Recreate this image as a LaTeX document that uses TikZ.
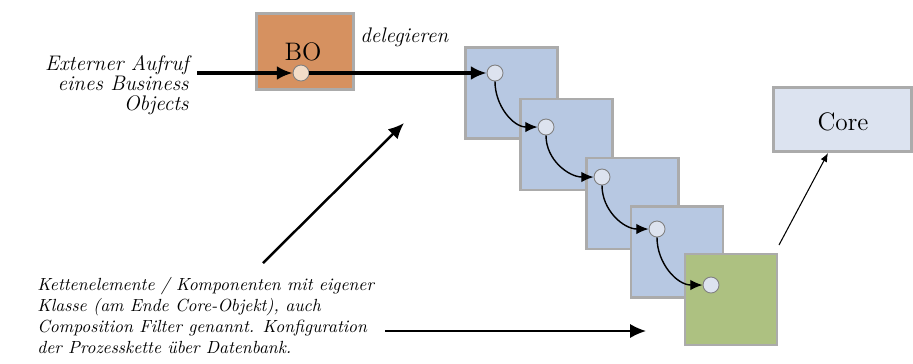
\documentclass[tikz,border=0pt]{standalone}
\usepackage{xcolor}
\usepackage{tikz}
\usetikzlibrary{arrows.meta}

\definecolor{boorange}{HTML}{D69160}
\definecolor{chainblue}{HTML}{B7C8E2}
\definecolor{chaingreen}{HTML}{ADC181}
\definecolor{coreblue}{HTML}{DCE3F0}
\definecolor{frame}{HTML}{ABABAB}
\definecolor{dotblue}{HTML}{DDE3EF}
\definecolor{dotorange}{HTML}{F3DDC8}

\tikzset{
    box/.style={draw=frame,line width=1.3pt,inner sep=0pt},
    chainbox/.style={box,fill=chainblue,minimum width=1.84cm,minimum height=1.82cm},
    dot/.style={circle,draw=gray,line width=0.5pt,fill=dotblue,minimum size=0.32cm,inner sep=0pt},
    note/.style={font=\itshape,inner sep=0pt},
}

\begin{document}
\begin{tikzpicture}[x=0.02cm,y=-0.02cm]
        \useasboundingbox (0,0) rectangle (913,363);
        % Business Object
        \node[box,fill=boorange,minimum width=1.94cm,minimum height=1.52cm] (bo) at (305,51.5) {};
        \node[font=\Large,anchor=base,inner sep=0pt] (botext) at (303,60) {BO};
        \node[dot,fill=dotorange] (bodot) at (301,73) {};
        % Kette
        \node[chainbox] (k1) at (511.5,93) {};
        \node[chainbox] (k2) at (566.5,144.5) {};
        \node[chainbox] (k3) at (632.5,203.5) {};
        \node[chainbox] (k4) at (677,252) {};
        \node[chainbox,fill=chaingreen] (k5) at (731,299.5) {};
        \node[dot] (d1) at (495,73) {};
        \node[dot] (d2) at (546,127) {};
        \node[dot] (d3) at (602,177) {};
        \node[dot] (d4) at (657,229) {};
        \node[dot] (d5) at (711,285) {};
        \node[box,fill=coreblue,minimum width=2.76cm,minimum height=1.28cm] (core) at (842.5,119.5) {};
        \node[font=\Large,anchor=base,inner sep=0pt] (coretext) at (843,130) {Core};
        % Texte
        \node[note,font={\fontsize{12}{11.5}\selectfont\itshape},align=right,anchor=north east] (aufruf) at (189,55) {Externer Aufruf\\eines Business\\Objects};
        \node[note,font=\large\itshape,anchor=base west] (deleg) at (360,42) {delegieren};
        \node[note,align=left,anchor=north west] (kette) at (37,277) {Kettenelemente / Komponenten mit eigener\\Klasse (am Ende Core-Objekt), auch\\Composition Filter genannt. Konfiguration\\der Prozesskette \"uber Datenbank.};
        \coordinate (in) at (197,73);
        \coordinate (pfeilfuss) at (263,263);
        \coordinate (pfeilspitze) at (404,123);
        \coordinate (linksunten) at (385,331);
        \coordinate (rechtsunten) at (646,331);
        \coordinate (k5ecke) at (779,245);
        \coordinate (coreunten) at (828,153);
        % Pfeile
        \draw[line width=1.8pt,-{Latex[length=9pt,width=8pt]}] (in)--(bodot);
        \draw[line width=1.8pt,-{Latex[length=9pt,width=8pt]}] (bodot)--(d1);
        \foreach \a/\b in {d1/d2,d2/d3,d3/d4,d4/d5}
            \draw[line width=0.8pt,-{Latex[length=7pt,width=6pt]}] (\a.south) to[out=-90,in=180] (\b.west);
        \draw[line width=1.4pt,-{Latex[length=9pt,width=8pt]}] (pfeilfuss)--(pfeilspitze);
        \draw[line width=1pt,-{Latex[length=9pt,width=8pt]}] (linksunten)--(rechtsunten);
        \draw[line width=0.6pt,-{Latex[length=5pt,width=4pt]}] (k5ecke)--(coreunten);
    \end{tikzpicture}
\end{document}
